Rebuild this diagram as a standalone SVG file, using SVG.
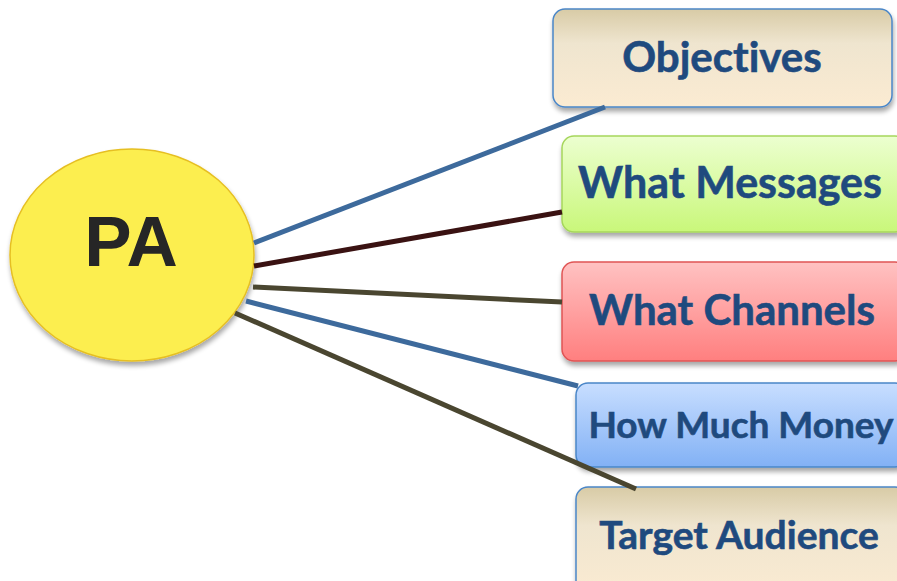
<svg xmlns="http://www.w3.org/2000/svg" width="897" height="581" viewBox="0 0 897 581">
  <defs>
    <filter id="shadow" x="-10%" y="-10%" width="130%" height="140%">
      <feGaussianBlur in="SourceAlpha" stdDeviation="2.5"/>
      <feOffset dx="1" dy="4" result="b"/>
      <feComponentTransfer><feFuncA type="linear" slope="0.35"/></feComponentTransfer>
      <feMerge><feMergeNode/><feMergeNode in="SourceGraphic"/></feMerge>
    </filter>
    <linearGradient id="gTan" x1="0" y1="0" x2="0" y2="1">
      <stop offset="0" stop-color="#d8cba6"/>
      <stop offset="0.35" stop-color="#efe5cf"/>
      <stop offset="1" stop-color="#fbebd2"/>
    </linearGradient>
    <linearGradient id="gGreen" x1="0" y1="0" x2="0" y2="1">
      <stop offset="0" stop-color="#ecffd0"/>
      <stop offset="1" stop-color="#c9f77a"/>
    </linearGradient>
    <linearGradient id="gRed" x1="0" y1="0" x2="0" y2="1">
      <stop offset="0" stop-color="#ffc2c2"/>
      <stop offset="1" stop-color="#ff7f7f"/>
    </linearGradient>
    <linearGradient id="gBlue" x1="0" y1="0" x2="0" y2="1">
      <stop offset="0" stop-color="#c8deff"/>
      <stop offset="1" stop-color="#82b1f5"/>
    </linearGradient>
  </defs>
  <style>
    .box { stroke-width: 1.5; filter: url(#shadow); }
    .lbl { font-family: Lato, "Liberation Sans", sans-serif; font-weight: bold; font-variant-ligatures: none; fill: #1f4a7e; stroke: #1f4a7e; stroke-width: 0.6; text-anchor: middle; }
    .conn { fill: none; stroke-width: 5; stroke-linecap: butt; }
  </style>

  <!-- central topic -->
  <g id="pa">
    <ellipse cx="132" cy="255" rx="122" ry="106" fill="#fcee50" stroke="#e6bf22" stroke-width="1.5" filter="url(#shadow)"/>
    <text x="131" y="266" font-family="'Liberation Sans', Arial, sans-serif" font-weight="bold" font-size="71" fill="#262626" text-anchor="middle">PA</text>
  </g>

  <!-- branch topics -->
  <g id="objectives">
    <rect class="box" x="553" y="9" width="339" height="98" rx="12" fill="url(#gTan)" stroke="#4a86c8"/>
    <text class="lbl" x="722" y="72" font-size="42">Objectives</text>
  </g>
  <g id="what-messages">
    <rect class="box" x="562" y="136" width="345" height="96" rx="12" fill="url(#gGreen)" stroke="#a6d65c"/>
    <text class="lbl" x="730" y="198" font-size="43">What Messages</text>
  </g>
  <g id="what-channels">
    <rect class="box" x="562" y="262" width="345" height="99" rx="12" fill="url(#gRed)" stroke="#e05454"/>
    <text class="lbl" x="732" y="325" font-size="42">What Channels</text>
  </g>
  <g id="how-much-money">
    <rect class="box" x="576" y="383" width="331" height="84" rx="12" fill="url(#gBlue)" stroke="#4a86c8"/>
    <text class="lbl" x="741" y="438" font-size="37">How Much Money</text>
  </g>
  <g id="target-audience">
    <rect class="box" x="576" y="487" width="331" height="110" rx="12" fill="url(#gTan)" stroke="#4a86c8"/>
    <text class="lbl" x="739" y="549" font-size="39">Target Audience</text>
  </g>

  <!-- connectors -->
  <g id="connectors">
    <line class="conn" x1="254" y1="243" x2="605" y2="107" stroke="#3d6a9c"/>
    <line class="conn" x1="254" y1="266" x2="562" y2="212" stroke="#3a1212"/>
    <line class="conn" x1="253" y1="287" x2="562" y2="302" stroke="#4a4630"/>
    <line class="conn" x1="246" y1="301" x2="578" y2="386" stroke="#3d6a9c"/>
    <line class="conn" x1="235" y1="313" x2="636" y2="489" stroke="#4a4630"/>
  </g>
</svg>
